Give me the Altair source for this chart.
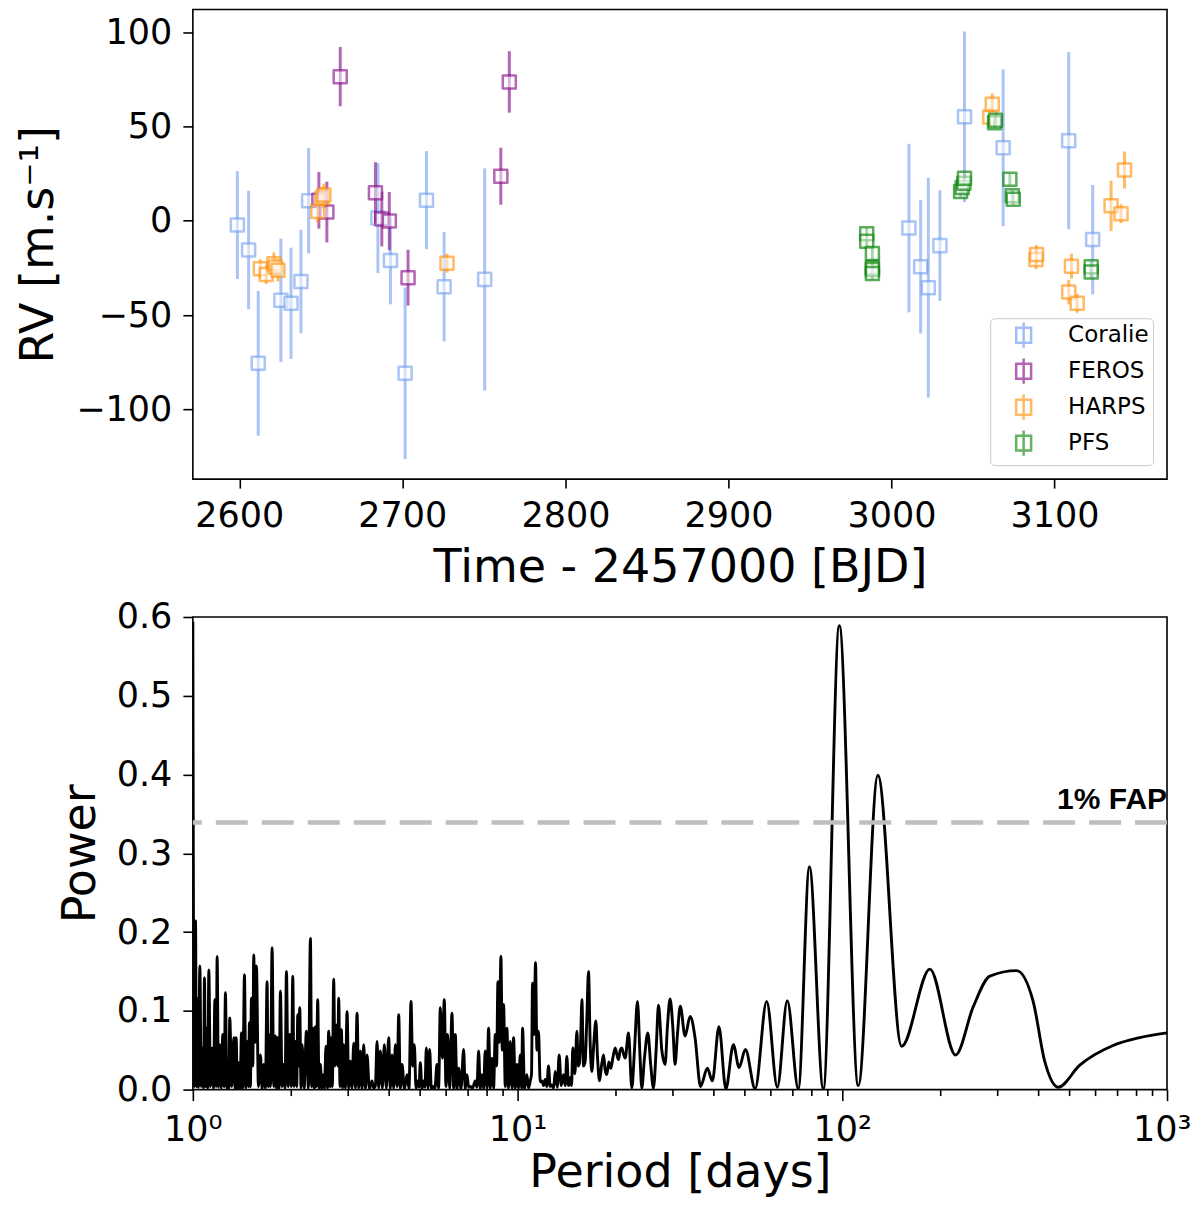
import altair as alt
import pandas as pd

# ---------------- RV data ----------------
instruments = ["Coralie", "FEROS", "HARPS", "PFS"]
inst_colors = ["#6495ED", "#800080", "#FF8C00", "#008000"]
inst_alpha = [0.55, 0.6, 0.6, 0.65]

coralie_t = [2598.8, 2605.7, 2611.6, 2625.5, 2631.7, 2637.8, 2642.5, 2685.0, 2692.7, 2701.7,
             2714.8, 2725.6, 2750.5, 3010.7, 3017.9, 3022.6, 3029.7, 3044.8, 3068.5, 3108.7, 3123.4]
coralie_rv = [-2.3, -15.5, -75.6, -42.2, -43.8, -32.2, 10.6, 1.4, -21.1, -80.9,
              10.9, -35.0, -31.1, -3.9, -24.4, -35.5, -13.2, 55.1, 38.7, 42.4, -10.0]
coralie_err = [28.6, 31.4, 38.4, 32.7, 29.5, 27.4, 28.0, 29.2, 23.2, 45.5,
               26.0, 29.0, 58.9, 44.7, 35.4, 58.3, 29.3, 45.3, 41.6, 47.0, 29.0]

feros_t = [2648.8, 2653.7, 2661.9, 2683.5, 2687.4, 2692.0, 2703.5, 2760.4, 2765.6]
feros_rv = [10.8, 4.6, 76.4, 14.8, 0.9, -0.2, -30.2, 23.6, 73.6]
feros_err = [15.0, 16.1, 15.7, 16.2, 14.5, 15.4, 14.8, 15.1, 16.3]

harps_t = [2612.9, 2616.5, 2621.2, 2622.2, 2623.7, 2648.1, 2650.7, 2651.9, 2727.4,
           3060.3, 3061.8, 3088.6, 3089.0, 3108.7, 3110.4, 3113.9, 3134.7, 3140.8, 3142.9]
harps_rv = [-25.5, -28.5, -22.8, -24.6, -26.2, 4.9, 12.0, 13.7, -22.5,
            55.0, 61.7, -20.6, -17.9, -37.8, -24.1, -43.8, 7.9, 3.7, 26.9]
harps_err = [5.0, 5.0, 6.0, 5.0, 6.0, 6.0, 6.0, 6.0, 5.0,
             5.0, 5.7, 5.0, 5.0, 6.5, 6.6, 5.0, 13.4, 5.0, 9.8]

pfs_t = [2984.8, 2984.8, 2988.3, 2988.3, 2988.3, 2988.3, 3042.4, 3043.4, 3044.4, 3044.8,
         3063.2, 3063.8, 3072.6, 3074.1, 3074.7, 3122.5, 3122.5]
pfs_rv = [-6.9, -10.9, -17.4, -24.8, -25.9, -28.0, 15.5, 17.6, 19.9, 22.5,
          52.0, 53.3, 22.0, 13.2, 11.4, -24.4, -27.2]
pfs_err = [3.0, 3.0, 3.0, 3.0, 3.0, 3.0, 3.0, 3.0, 3.0, 3.0,
           3.0, 3.0, 3.0, 3.0, 3.0, 3.0, 3.0]

# ---------------- Periodogram ----------------
pg_period = [
    1.000, 1.0095, 1.019, 1.026, 1.031, 1.041, 1.051, 1.061, 1.068, 1.079, 1.086, 1.094, 1.102, 1.112,
    1.120, 1.133, 1.147, 1.158, 1.169, 1.180, 1.188, 1.199, 1.211, 1.222, 1.237, 1.249, 1.260, 1.272,
    1.281, 1.291, 1.299, 1.318, 1.337, 1.350, 1.359, 1.372, 1.385, 1.398, 1.412, 1.425, 1.442, 1.456,
    1.470, 1.483, 1.494, 1.504, 1.515, 1.530, 1.540, 1.555, 1.570, 1.592, 1.615, 1.634, 1.654, 1.673,
    1.693, 1.705, 1.713, 1.734, 1.754, 1.775, 1.796, 1.809, 1.826, 1.843, 1.861, 1.883, 1.905, 1.923,
    1.942, 1.965, 1.988, 2.012, 2.031, 2.050, 2.070, 2.089, 2.104, 2.119, 2.134, 2.154, 2.170, 2.201,
    2.237, 2.269, 2.302, 2.323, 2.345, 2.367, 2.385, 2.401, 2.424, 2.447, 2.471, 2.494, 2.518, 2.542,
    2.571, 2.596, 2.620, 2.645, 2.664, 2.689, 2.715, 2.740, 2.767, 2.793, 2.813, 2.840, 2.867, 2.894,
    2.915, 2.949, 2.985, 3.020, 3.056, 3.092, 3.129, 3.166, 3.204, 3.242, 3.281, 3.319, 3.359, 3.399,
    3.439, 3.497, 3.563, 3.605, 3.648, 3.692, 3.735, 3.780, 3.834, 3.888, 3.944, 4.010, 4.057, 4.106,
    4.155, 4.205, 4.254, 4.305, 4.355, 4.408, 4.481, 4.567, 4.631, 4.697, 4.753, 4.809, 4.867, 4.924,
    4.971, 5.017, 5.077, 5.137, 5.186, 5.236, 5.298, 5.361, 5.425, 5.489, 5.567, 5.646, 5.713, 5.782,
    5.864, 5.948, 6.019, 6.090, 6.178, 6.281, 6.355, 6.431, 6.506, 6.585, 6.694, 6.821, 6.902, 6.985,
    7.066, 7.152, 7.270, 7.408, 7.497, 7.586, 7.676, 7.768, 7.859, 7.952, 8.046, 8.143, 8.239, 8.337,
    8.437, 8.537, 8.618, 8.700, 8.783, 8.887, 8.971, 9.056, 9.165, 9.273, 9.383, 9.493, 9.607, 9.721,
    9.836, 9.952, 10.07, 10.19, 10.29, 10.36, 10.51, 10.68, 10.81, 10.94, 11.04, 11.12, 11.23, 11.36,
    11.47, 11.60, 11.74, 11.88, 12.02, 12.16, 12.31, 12.45, 12.60, 12.75, 12.91, 13.06, 13.25, 13.43,
    13.63, 13.85, 14.02, 14.18, 14.35, 14.53, 14.66, 14.80, 15.01, 15.23, 15.37, 15.48, 15.63, 15.78,
    15.96, 16.15, 16.34, 16.54, 16.73, 16.93, 17.18, 17.42, 17.63, 17.88, 18.13, 18.39, 18.61, 18.83,
    19.10, 19.37, 19.65, 19.98, 20.21, 20.46, 20.70, 20.94, 21.20, 21.45, 21.96, 22.48, 22.91, 23.40,
    23.84, 24.13, 24.59, 25.18, 25.72, 26.21, 26.71, 27.16, 27.81, 28.47, 28.94, 29.49, 30.06, 30.55,
    31.07, 31.7, 32.8, 34.0, 35.2, 36.6, 38.4, 39.8, 41.7, 43.8, 46.2, 48.1, 50.3, 53.9,
    58.5, 63.1, 67.7, 73.2, 79.2, 87.4, 97.9, 112.0, 128.7, 152.3, 186.1, 223.3, 253.0, 284.7,
    343.9, 387.0, 420.0, 462.0, 538.6, 682.0, 824.0, 1000.0,
]
pg_power = [
    0.594, 0.004, 0.214, 0.004, 0.116, 0.003, 0.157, 0.004, 0.053, 0.002, 0.142, 0.004, 0.078, 0.002,
    0.152, 0.004, 0.053, 0.002, 0.114, 0.004, 0.169, 0.003, 0.057, 0.002, 0.070, 0.004, 0.123, 0.002,
    0.036, 0.002, 0.091, 0.004, 0.066, 0.002, 0.066, 0.001, 0.034, 0.001, 0.072, 0.002, 0.146, 0.002,
    0.061, 0.004, 0.085, 0.004, 0.116, 0.03, 0.171, 0.06, 0.157, 0.004, 0.044, 0.001, 0.032, 0.002,
    0.137, 0.004, 0.070, 0.004, 0.180, 0.004, 0.068, 0.002, 0.066, 0.002, 0.125, 0.004, 0.032, 0.002,
    0.150, 0.004, 0.070, 0.004, 0.144, 0.004, 0.061, 0.004, 0.095, 0.03, 0.104, 0.002, 0.057, 0.002,
    0.074, 0.002, 0.192, 0.004, 0.078, 0.002, 0.080, 0.004, 0.114, 0.002, 0.032, 0.001, 0.019, 0.001,
    0.055, 0.002, 0.074, 0.004, 0.066, 0.004, 0.140, 0.03, 0.082, 0.03, 0.116, 0.004, 0.076, 0.002,
    0.057, 0.002, 0.099, 0.002, 0.036, 0.002, 0.059, 0.002, 0.097, 0.002, 0.049, 0.001, 0.057, 0.001,
    0.044, 0.001, 0.011, 0.002, 0.004, 0.061, 0.002, 0.049, 0.002, 0.057, 0.002, 0.066, 0.002, 0.044,
    0.002, 0.057, 0.004, 0.095, 0.002, 0.032, 0.001, 0.019, 0.001, 0.112, 0.03, 0.057, 0.002, 0.011,
    0.003, 0.034, 0.001, 0.011, 0.003, 0.053, 0.002, 0.051, 0.001, 0.004, 0.002, 0.032, 0.002, 0.104,
    0.04, 0.114, 0.004, 0.070, 0.002, 0.097, 0.002, 0.070, 0.001, 0.027, 0.001, 0.051, 0.001, 0.019,
    0.003, 0.004, 0.002, 0.011, 0.003, 0.049, 0.001, 0.019, 0.001, 0.049, 0.002, 0.078, 0.002, 0.040,
    0.002, 0.070, 0.03, 0.137, 0.06, 0.169, 0.05, 0.108, 0.004, 0.078, 0.002, 0.061, 0.002, 0.066,
    0.002, 0.032, 0.002, 0.044, 0.002, 0.078, 0.001, 0.019, 0.002, 0.011, 0.02, 0.135, 0.07, 0.161,
    0.05, 0.074, 0.01, 0.011, 0.005, 0.013, 0.004, 0.030, 0.004, 0.006, 0.002, 0.023, 0.003, 0.044,
    0.005, 0.019, 0.005, 0.042, 0.005, 0.015, 0.005, 0.053, 0.02, 0.074, 0.03, 0.032, 0.06, 0.114,
    0.03, 0.036, 0.09, 0.150, 0.06, 0.023, 0.06, 0.087, 0.04, 0.011, 0.03, 0.044, 0.025, 0.019,
    0.035, 0.027, 0.04, 0.053, 0.045, 0.038, 0.05, 0.053, 0.045, 0.040, 0.072, 0.002, 0.05, 0.112,
    0.04, 0.002, 0.04, 0.072, 0.03, 0.002, 0.05, 0.107, 0.05, 0.032, 0.08, 0.115, 0.08, 0.032,
    0.07, 0.106, 0.068, 0.093, 0.066, 0.004, 0.027, 0.011, 0.080, 0.001, 0.057, 0.028, 0.051, 0.001,
    0.112, 0.003, 0.113, 0.001, 0.283, 0.001, 0.589, 0.005, 0.399, 0.055, 0.153, 0.044, 0.105, 0.144,
    0.151, 0.112, 0.036, 0.003, 0.031, 0.056, 0.066, 0.072,
]

fap_level = [0.339]
fap_label = ["1% FAP"]

# ---------------- tables ----------------
rows = []
for name, ts, rvs, errs in [("Coralie", coralie_t, coralie_rv, coralie_err),
                            ("FEROS", feros_t, feros_rv, feros_err),
                            ("HARPS", harps_t, harps_rv, harps_err),
                            ("PFS", pfs_t, pfs_rv, pfs_err)]:
    for t, v, e in zip(ts, rvs, errs):
        rows.append({"inst": name, "t": t, "rv": v, "lo": v - e, "hi": v + e})
rv_df = pd.DataFrame(rows)
pg_df = pd.DataFrame({"period": pg_period, "power": pg_power})
fap_df = pd.DataFrame({"fap": fap_level, "period": [1000.0], "label": fap_label})

FONT = "DejaVu Sans"
W = 975

# ---------------- top panel ----------------
xs = alt.Scale(domain=[2571.5, 3169], nice=False, zero=False)
ys = alt.Scale(domain=[-137, 112], nice=False, zero=False)
cs = alt.Scale(domain=instruments, range=inst_colors)

x_axis = alt.Axis(values=[2600, 2700, 2800, 2900, 3000, 3100], format="d",
                  title="Time - 2457000 [BJD]", tickSize=9, labelPadding=10, titlePadding=12)
y_axis = alt.Axis(values=[-100, -50, 0, 50, 100], format="d",
                  title="RV [m.s⁻¹]", tickSize=10, labelPadding=11, titlePadding=13)

legend_path = "M -0.65 -0.65 L 0.65 -0.65 L 0.65 0.65 L -0.65 0.65 Z M 0 -1.1 L 0 1.1"
legend = alt.Legend(title=None, orient="bottom-right", offset=14,
                    symbolType=legend_path, symbolSize=529, symbolStrokeWidth=2.5,
                    symbolOpacity=0.6, symbolOffset=16.5, labelOffset=31.5,
                    labelFontSize=23, labelFont=FONT, labelColor="black",
                    padding=4, rowPadding=0, strokeColor="#cccccc",
                    fillColor="white", cornerRadius=4)

layers = []
for name, a in zip(instruments, inst_alpha):
    base = alt.Chart(rv_df).transform_filter(alt.datum.inst == name)
    bars = base.mark_rule(strokeWidth=3, opacity=a).encode(
        x=alt.X("t:Q", scale=xs, axis=x_axis),
        y=alt.Y("lo:Q", scale=ys, axis=y_axis),
        y2="hi:Q",
        color=alt.Color("inst:N", scale=cs, legend=legend),
    )
    pts = base.mark_point(shape="square", size=170, strokeWidth=2.5, filled=False,
                          fill="white", fillOpacity=0.5, strokeOpacity=a,
                          strokeJoin="round").encode(
        x=alt.X("t:Q", scale=xs, axis=x_axis),
        y=alt.Y("rv:Q", scale=ys, axis=y_axis),
        color=alt.Color("inst:N", scale=cs, legend=legend),
    )
    layers += [bars, pts]

top = alt.layer(*layers).properties(width=W, height=470)

# ---------------- bottom panel ----------------
minor_vals = [1, 2, 3, 4, 5, 6, 7, 8, 9, 10, 20, 30, 40, 50, 60, 70, 80, 90,
              100, 200, 300, 400, 500, 600, 700, 800, 900, 1000]
major_test = "datum.value == 1 || datum.value == 10 || datum.value == 100 || datum.value == 1000"
px_axis = alt.Axis(
    values=minor_vals,
    labelExpr="datum.value == 1 ? '10⁰' : datum.value == 10 ? '10¹' : datum.value == 100 ? '10²' : datum.value == 1000 ? '10³' : ''",
    tickSize={"condition": {"test": major_test, "value": 11}, "value": 6},
    labelAlign={"condition": {"test": "datum.value == 1000", "value": "right"}, "value": "center"},
    labelOffset={"condition": {"test": "datum.value == 1000", "value": 24}, "value": 0},
    labelOverlap=False, labelPadding=12, title="Period [days]", titlePadding=3,
)
py_axis = alt.Axis(values=[0, 0.1, 0.2, 0.3, 0.4, 0.5, 0.6], format=".1f",
                   title="Power", tickSize=10, labelPadding=11, titlePadding=12)

pxs = alt.Scale(type="log", domain=[1, 1000], nice=False)
pys = alt.Scale(domain=[0, 0.6], nice=False, zero=False)

line = alt.Chart(pg_df).mark_line(color="black", strokeWidth=2.9, interpolate="monotone",
                                  clip=True).encode(
    x=alt.X("period:Q", scale=pxs, axis=px_axis),
    y=alt.Y("power:Q", scale=pys, axis=py_axis),
)
fap = alt.Chart(fap_df).mark_rule(color="#BEBEBE", strokeWidth=4.5, strokeDash=[32, 14]).encode(
    y=alt.Y("fap:Q", scale=pys, axis=py_axis),
)
fap_txt = alt.Chart(fap_df).mark_text(align="right", baseline="alphabetic", dy=-14,
                                      fontSize=30, fontWeight="bold",
                                      font="Liberation Sans", color="black").encode(
    x=alt.X("period:Q", scale=pxs, axis=px_axis),
    y=alt.Y("fap:Q", scale=pys, axis=py_axis),
    text="label:N",
)
bottom = alt.layer(line, fap, fap_txt).properties(width=W, height=473)

chart = alt.vconcat(top, bottom, spacing=138, bounds="flush").resolve_scale(
    color="independent"
).resolve_legend(
    color="independent"
).properties(
    padding={"left": 7, "top": 0, "right": 0, "bottom": 0},
    background="white",
).configure_view(
    stroke="black", strokeWidth=1.6
).configure_axis(
    labelFont=FONT, titleFont=FONT, labelFontSize=35, titleFontSize=46,
    titleFontWeight="normal", labelColor="black", titleColor="black",
    tickColor="black", tickWidth=1.6, domain=False, grid=False,
    labelFlush=False,
)

chart.save("out.html", embed_options={"renderer": "svg", "actions": False})
